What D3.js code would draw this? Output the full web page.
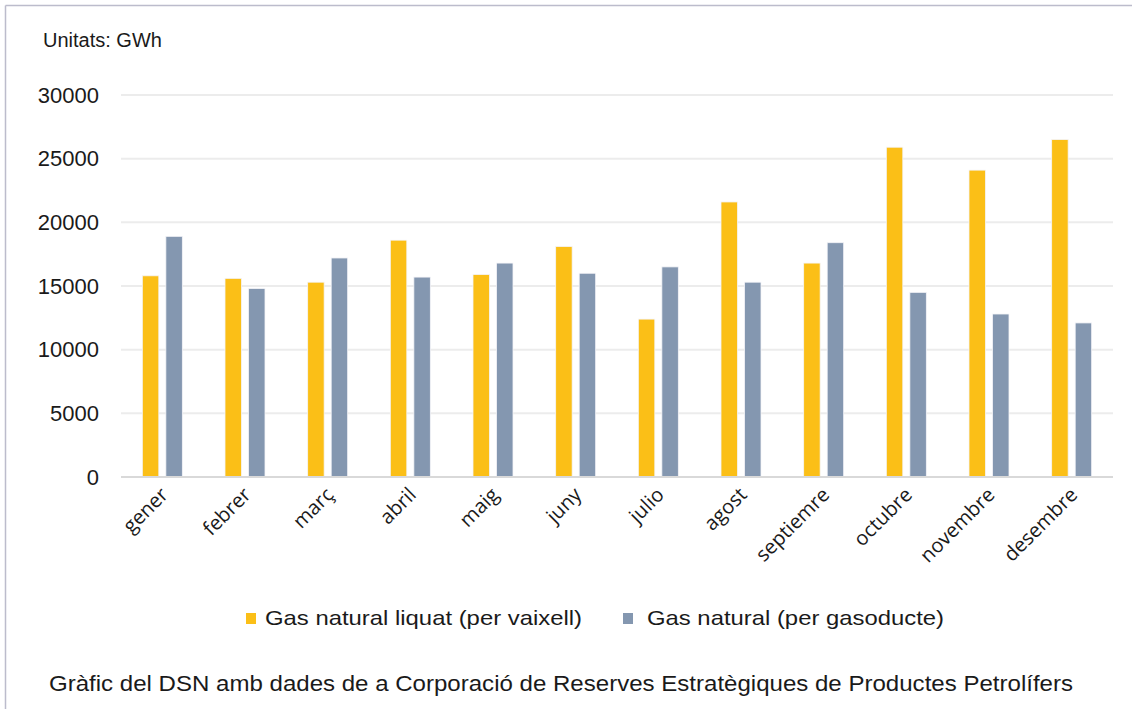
<!DOCTYPE html>
<html>
<head>
<meta charset="utf-8">
<script src="https://cdn.jsdelivr.net/npm/d3@7"></script>
<style>
  body { margin: 0; background: #fff; }
  text { font-family: "Liberation Sans", Arial, sans-serif; fill: #1a1a1a; }
</style>
</head>
<body>
<script>
// data
var months = ["gener","febrer","març","abril","maig","juny","julio","agost","septiemre","octubre","novembre","desembre"];
var series = ["Gas natural liquat (per vaixell)", "Gas natural (per gasoducte)"];
var liquat = [15800, 15600, 15300, 18600, 15900, 18100, 12400, 21600, 16800, 25900, 24100, 26500];
var gasoducte = [18900, 14800, 17200, 15700, 16800, 16000, 16500, 15300, 18400, 14500, 12800, 12100];
var yTicks = [0, 5000, 10000, 15000, 20000, 25000, 30000];
var colors = ["#FBBF17", "#8497B0"];

var W = 1132, H = 709;
var margin = {top: 95, right: 19, bottom: 232, left: 121};

var svg = d3.select("body").append("svg")
  .attr("width", W)
  .attr("height", H);

// frame lines (top and left)
svg.append("line").attr("x1", 5.5).attr("x2", W).attr("y1", 5.5).attr("y2", 5.5)
  .attr("stroke", "#bcbccc").attr("stroke-width", 1.5);
svg.append("line").attr("x1", 5.5).attr("x2", 5.5).attr("y1", 5.5).attr("y2", H)
  .attr("stroke", "#bcbccc").attr("stroke-width", 1.5);

var x0 = d3.scaleBand()
  .domain(months)
  .range([margin.left, W - margin.right])
  .padding(0);

var x1 = d3.scaleBand()
  .domain([0, 1])
  .range([x0.bandwidth() / 2 - 20, x0.bandwidth() / 2 + 20])
  .paddingInner(0.3);

var y = d3.scaleLinear()
  .domain([0, 30000])
  .range([H - margin.bottom, margin.top]);

// gridlines
svg.append("g").selectAll("line")
  .data(yTicks.slice(1))
  .enter().append("line")
  .attr("x1", margin.left).attr("x2", W - margin.right)
  .attr("y1", function(d){ return y(d); })
  .attr("y2", function(d){ return y(d); })
  .attr("stroke", "#ececec").attr("stroke-width", 2);

// y axis labels
var yAxis = d3.axisLeft(y).tickValues(yTicks).tickSize(0).tickPadding(22)
  .tickFormat(d3.format("d"));
var ya = svg.append("g").attr("transform", "translate(" + margin.left + ",0)").call(yAxis);
ya.select(".domain").remove();
ya.selectAll("text")
  .style("font-family", "Liberation Sans, Arial, sans-serif")
  .style("font-size", "22px").attr("fill", "#1a1a1a");

// bars
var rows = months.map(function(m, i){ return {month: m, vals: [liquat[i], gasoducte[i]]}; });

var groups = svg.append("g").selectAll("g")
  .data(rows)
  .enter().append("g")
  .attr("transform", function(d){ return "translate(" + x0(d.month) + ",0)"; });

groups.selectAll("rect")
  .data(function(d){ return d.vals.map(function(v, k){ return {k: k, v: v}; }); })
  .enter().append("rect")
  .attr("x", function(d){ return x1(d.k); })
  .attr("width", x1.bandwidth())
  .attr("y", function(d){ return y(d.v); })
  .attr("height", function(d){ return y(0) - y(d.v); })
  .attr("fill", function(d){ return colors[d.k]; })
  .attr("stroke", "#f4f4f8").attr("stroke-width", 0.8);

// baseline
svg.append("line")
  .attr("x1", margin.left).attr("x2", W - margin.right)
  .attr("y1", y(0)).attr("y2", y(0))
  .attr("stroke", "#d9d9d9").attr("stroke-width", 2);

// x axis
var xAxis = d3.axisBottom(x0).tickSize(0).tickPadding(0);
var xa = svg.append("g").attr("transform", "translate(0," + y(0) + ")").call(xAxis);
xa.select(".domain").remove();
xa.selectAll("text")
  .style("font-family", "'Open Sans', sans-serif")
  .style("font-size", "20px")
  .attr("fill", "#1a1a1a")
  .attr("text-anchor", "end")
  .attr("dy", 0)
  .attr("y", 0)
  .attr("transform", "translate(7,19) rotate(-45)");

// units label
svg.append("text")
  .attr("x", 43).attr("y", 47)
  .style("font-size", "20px")
  .text("Unitats: GWh");

// legend
var legendX = [246, 623];
var legendW = [317, 297];
var lg = svg.append("g").selectAll("g")
  .data(series)
  .enter().append("g")
  .attr("transform", function(d, i){ return "translate(" + legendX[i] + ",613)"; });
lg.append("rect").attr("width", 10).attr("height", 11)
  .attr("fill", function(d, i){ return colors[i]; });
lg.append("text")
  .attr("x", function(d, i){ return i === 0 ? 19 : 24; })
  .attr("y", 12)
  .style("font-size", "21px")
  .attr("textLength", function(d, i){ return legendW[i]; })
  .attr("lengthAdjust", "spacingAndGlyphs")
  .text(function(d){ return d; });

// source note
svg.append("text")
  .attr("x", 49).attr("y", 691)
  .style("font-size", "22px")
  .attr("textLength", 1024)
  .attr("lengthAdjust", "spacingAndGlyphs")
  .text("Gràfic del DSN amb dades de a Corporació de Reserves Estratègiques de Productes Petrolífers");
</script>
</body>
</html>
